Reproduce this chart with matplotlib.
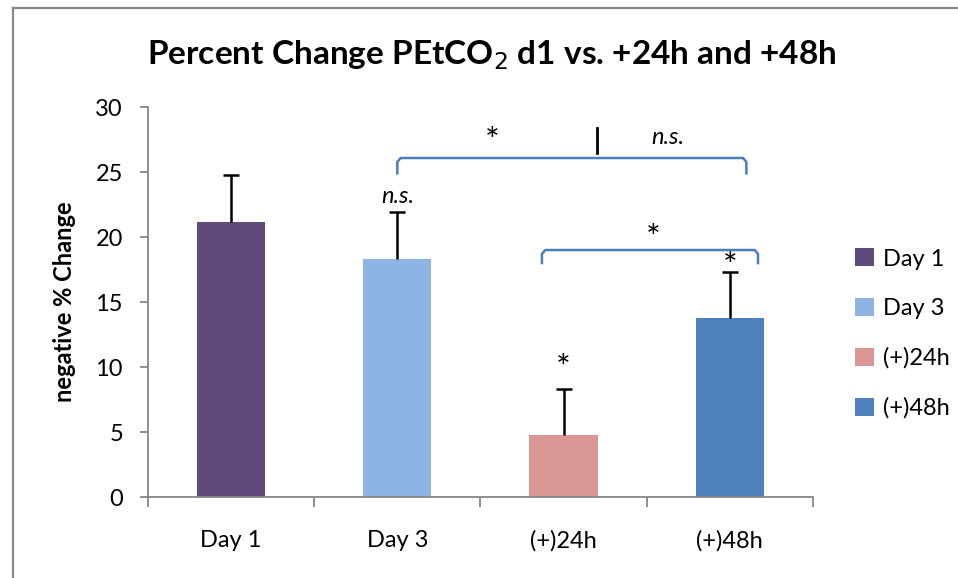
import matplotlib
matplotlib.use("Agg")
import matplotlib.pyplot as plt
from matplotlib.lines import Line2D

plt.rcParams['font.family'] = ['Lato', 'DejaVu Sans']

categories = ["Day 1", "Day 3", "(+)24h", "(+)48h"]
values = [21.15, 18.3, 4.77, 13.77]
errors = [3.6, 3.6, 3.55, 3.55]
colors = ["#604A7B", "#8EB4E3", "#D99694", "#4F81BD"]
title = "Percent Change PEtCO$_2$ d1 vs. +24h and +48h"
ylabel = "negative % Change"
yticks = [0, 5, 10, 15, 20, 25, 30]

fig = plt.figure(figsize=(9.58, 5.78), dpi=100)
ax = fig.add_axes([0.1545, 0.1401, 0.694, 0.6747])

x = list(range(len(categories)))
bars = ax.bar(x, values, width=0.41, color=colors, label=categories, zorder=2)
eb = ax.errorbar(x, values, yerr=[[0]*4, errors], fmt='none', ecolor='black',
                 elinewidth=1.8, capsize=6, capthick=1.8, zorder=3)
eb[1][0].set_visible(False)

ax.set_xlim(-0.5, 3.5)
ax.set_ylim(0, 30)
ax.set_yticks(yticks)
ax.set_yticklabels([str(t) for t in yticks], fontsize=17)
ax.set_xticks(x)
ax.set_xticklabels(categories, fontsize=17)
ax.tick_params(axis='x', length=0, pad=24)
ax.set_xticks([-0.5, 0.5, 1.5, 2.5, 3.5], minor=True)
ax.tick_params(axis='x', which='minor', length=7, width=1.3, color='#868686', direction='out')
ax.tick_params(axis='y', length=6, width=1.3, color='#868686', direction='out', pad=12)
for s in ['top', 'right']:
    ax.spines[s].set_visible(False)
for s in ['left', 'bottom']:
    ax.spines[s].set_color('#868686')
    ax.spines[s].set_linewidth(1.3)
ax.spines['bottom'].set_bounds(-0.5, 3.5)

ax.set_ylabel(ylabel, fontsize=17, fontweight='bold', labelpad=14)
fig.text(0.513, 0.905, title, fontsize=24, fontweight='bold', ha='center', va='center')

# brackets
bcol = '#4A7EBB'
def bracket(x0, x1, ytop, ylow):
    dx = 0.02
    dy = 0.3
    ax.plot([x0, x0, x0 + dx, x1 - dx, x1, x1], [ylow, ytop - dy, ytop, ytop, ytop - dy, ylow],
            color=bcol, lw=1.8, solid_joinstyle='round', clip_on=False, zorder=4)

bracket(1.0, 3.1, 26.08, 24.9)
bracket(1.87, 3.17, 19.0, 18.0)

star = dict(fontsize=25, ha='center', va='center')
ax.text(1.57, 27.3, "*", **star)
ax.plot([2.2, 2.2], [26.5, 28.4], color='black', lw=2, clip_on=False)
ax.text(2.63, 27.65, "n.s.", fontsize=17, style='italic', ha='center', va='center')
ax.text(1.0, 23.15, "n.s.", fontsize=17, style='italic', ha='center', va='center')
ax.text(2.54, 19.85, "*", **star)
ax.text(2.0, 9.85, "*", **star)
ax.text(3.0, 17.7, "*", **star)

# legend
leg = fig.legend(handles=bars, labels=categories, loc='upper left',
                 bbox_to_anchor=(0.870, 0.607), frameon=False, fontsize=17,
                 handlelength=0.8, handleheight=0.8, handletextpad=0.4, labelspacing=1.2)

# figure border (left and top)
fig.add_artist(Line2D([12.5/958, 12.5/958], [0, 1 - 7.5/578], color='#888888', lw=1.6))
fig.add_artist(Line2D([12.5/958, 1], [1 - 7.5/578, 1 - 7.5/578], color='#888888', lw=1.6))

fig.savefig("out.png", dpi=100)
